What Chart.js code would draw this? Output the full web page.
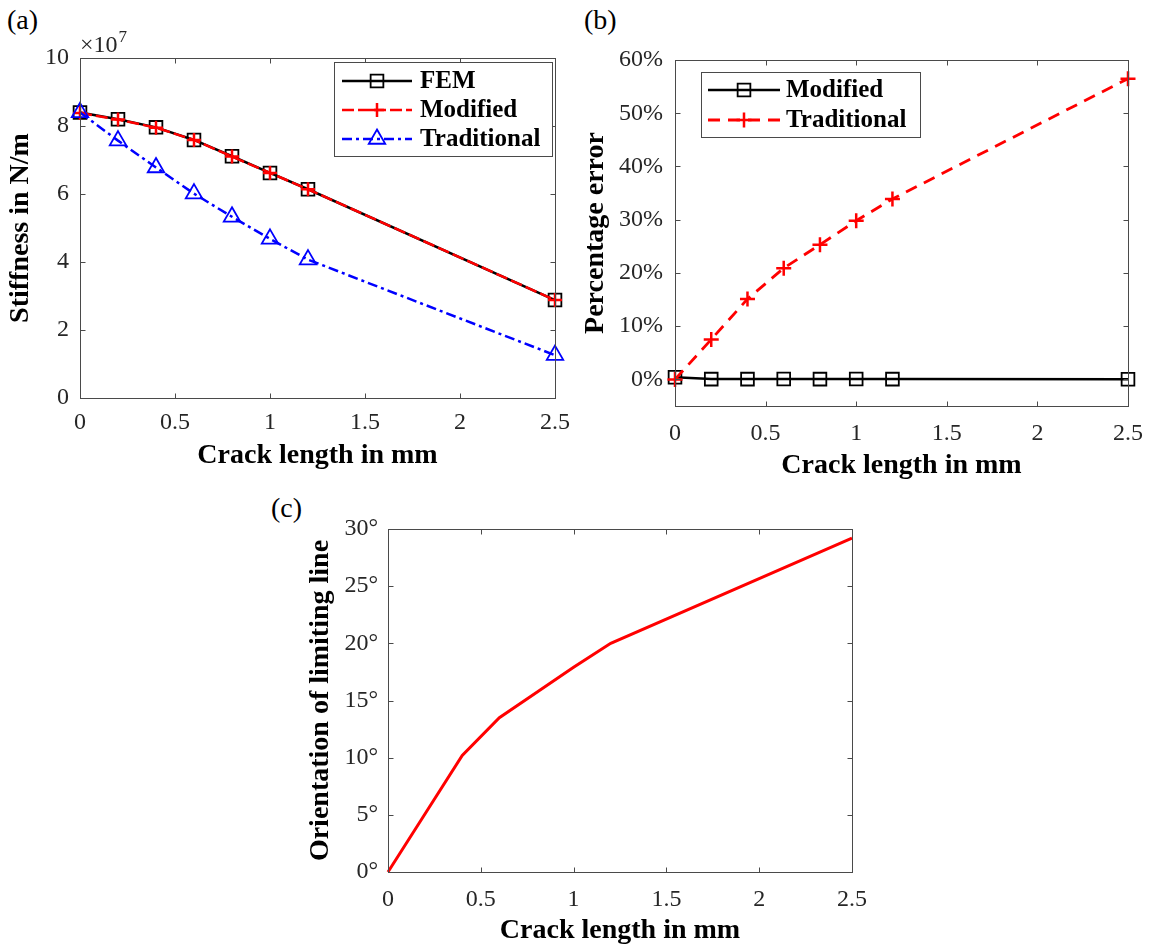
<!DOCTYPE html>
<html lang="en">
<head>
  <meta charset="UTF-8" />
  <title>Cracked beam stiffness</title>
  <script src="https://cdn.jsdelivr.net/npm/chart.js"></script>
  <style>
    body {
      margin: 0;
      width: 1156px;
      height: 950px;
      position: relative;
      overflow: hidden;
      background: #fff;
      font-family: 'Liberation Serif', serif;
    }
    canvas { position: absolute; }
    .tag {
      position: absolute;
      font-size: 28px;
      line-height: 28px;
      color: #000;
    }
  </style>
</head>
<body>
  <div class="tag" style="left:7px; top:6px;">(a)</div>
  <div class="tag" style="left:584px; top:6px;">(b)</div>
  <div class="tag" style="left:271px; top:494px;">(c)</div>

  <canvas id="stiffnessChart" width="580" height="480" style="left:0; top:0;"></canvas>
  <canvas id="errorChart" width="581" height="490" style="left:575px; top:0;"></canvas>
  <canvas id="angleChart" width="580" height="470" style="left:300px; top:480px;"></canvas>

  <script>
    // crack lengths in mm
    const crackLength = [0, 0.2, 0.4, 0.6, 0.8, 1.0, 1.2, 2.5];

    // stiffness, x 10^7 N/m
    const stiffnessFEM = [8.40, 8.20, 7.96, 7.59, 7.11, 6.62, 6.14, 2.88];
    const stiffnessModified = [8.38, 8.19, 7.95, 7.59, 7.10, 6.62, 6.14, 2.88];
    const stiffnessTraditional = [8.40, 7.57, 6.78, 6.01, 5.33, 4.68, 4.07, 1.26];

    // percentage error against FEM
    const errorModified = [0.4, 0.05, 0.05, 0.08, 0.05, 0.08, 0.05, 0.02];
    const errorTraditional = [0, 7.5, 15.1, 20.9, 25.3, 29.8, 33.9, 56.5];

    // orientation of limiting line, degrees
    const limitAngle = [0, 5.1, 10.2, 13.5, 15.7, 17.9, 20.0, 29.2];

    const xTicks = [0, 0.5, 1, 1.5, 2, 2.5];
    const stiffnessTicks = [0, 2, 4, 6, 8, 10];
    const errorTicks = [0, 10, 20, 30, 40, 50, 60];
    const angleTicks = [0, 5, 10, 15, 20, 25, 30];

    const AXIS_COLOR = '#4a4a4a';
    const TICK_COLOR = '#262626';
    const FONT = "'Liberation Serif', serif";

    Chart.defaults.font.family = FONT;

    const points = ys => crackLength.map((x, i) => ({ x: x, y: ys[i] }));

    function drawMarker(ctx, style, x, y, r) {
      ctx.beginPath();
      if (style === 'rect') {
        const s = r * Math.SQRT1_2;
        ctx.rect(x - s, y - s, 2 * s, 2 * s);
      } else if (style === 'cross') {
        ctx.moveTo(x - r, y); ctx.lineTo(x + r, y);
        ctx.moveTo(x, y - r); ctx.lineTo(x, y + r);
      } else if (style === 'triangle') {
        ctx.moveTo(x, y - r);
        ctx.lineTo(x + r * Math.sin(Math.PI * 2 / 3), y + r / 2);
        ctx.lineTo(x - r * Math.sin(Math.PI * 2 / 3), y + r / 2);
        ctx.closePath();
      }
      ctx.stroke();
    }

    // box around the plot area with inward ticks on all four sides
    const axesBox = {
      id: 'axesBox',
      afterDatasetsDraw(chart) {
        const { ctx, chartArea: a, scales } = chart;
        const L = Math.round(a.left) + 0.5, R = Math.round(a.right) + 0.5;
        const T = Math.round(a.top) + 0.5, B = Math.round(a.bottom) + 0.5;
        ctx.save();
        ctx.strokeStyle = AXIS_COLOR;
        ctx.lineWidth = 1;
        ctx.strokeRect(L, T, R - L, B - T);
        ctx.beginPath();
        scales.x.ticks.forEach(t => {
          const px = Math.round(scales.x.getPixelForValue(t.value)) + 0.5;
          ctx.moveTo(px, B); ctx.lineTo(px, B - 5);
          ctx.moveTo(px, T); ctx.lineTo(px, T + 5);
        });
        scales.y.ticks.forEach(t => {
          const py = Math.round(scales.y.getPixelForValue(t.value)) + 0.5;
          ctx.moveTo(L, py); ctx.lineTo(L + 5, py);
          ctx.moveTo(R, py); ctx.lineTo(R - 5, py);
        });
        ctx.stroke();
        ctx.restore();
      }
    };

    // framed legend inside the plot: line sample, marker, bold label
    const boxLegend = {
      id: 'boxLegend',
      afterDraw(chart, args, opts) {
        if (!opts.box) return;
        const ctx = chart.ctx;
        const [bx, by, bw, bh] = opts.box;
        ctx.save();
        ctx.fillStyle = '#fff';
        ctx.fillRect(bx, by, bw, bh);
        ctx.strokeStyle = AXIS_COLOR;
        ctx.lineWidth = 1;
        ctx.strokeRect(bx + 0.5, by + 0.5, bw, bh);
        chart.data.datasets.forEach((ds, i) => {
          const y = opts.rows[i];
          ctx.strokeStyle = ds.borderColor;
          ctx.lineWidth = ds.borderWidth;
          ctx.setLineDash(ds.borderDash || []);
          ctx.beginPath();
          ctx.moveTo(opts.lineFrom, y);
          ctx.lineTo(opts.lineTo, y);
          ctx.stroke();
          ctx.setLineDash([]);
          ctx.strokeStyle = ds.pointBorderColor;
          ctx.lineWidth = ds.pointBorderWidth;
          drawMarker(ctx, ds.pointStyle, (opts.lineFrom + opts.lineTo) / 2, y, ds.pointRadius);
          ctx.fillStyle = '#000';
          ctx.font = 'bold 25px ' + FONT;
          ctx.textBaseline = 'middle';
          ctx.fillText(ds.label, opts.textX, y + 1);
        });
        ctx.restore();
      }
    };

    // "x10^7" multiplier above the stiffness axis
    const exponentLabel = {
      id: 'exponentLabel',
      afterDraw(chart, args, opts) {
        if (!opts.text) return;
        const { ctx, chartArea } = chart;
        ctx.save();
        ctx.fillStyle = TICK_COLOR;
        ctx.textBaseline = 'alphabetic';
        ctx.font = '24px ' + FONT;
        const x0 = chartArea.left;
        const y0 = chartArea.top - 6;
        ctx.fillText(opts.text, x0, y0);
        const w = ctx.measureText(opts.text).width;
        ctx.font = '17px ' + FONT;
        ctx.fillText(opts.power, x0 + w + 1, y0 - 10);
        ctx.restore();
      }
    };

    function series(label, ys, color, dash, style, radius, width, order) {
      return {
        label: label,
        data: points(ys),
        borderColor: color,
        borderWidth: width,
        borderDash: dash,
        pointStyle: style,
        pointRadius: radius,
        pointBorderColor: color,
        pointBackgroundColor: 'rgba(0,0,0,0)',
        pointBorderWidth: style === 'cross' ? 2.5 : 1.8,
        tension: 0,
        clip: false,
        order: order
      };
    }

    function panelOptions(cfg) {
      const tickFont = { family: FONT, size: 24 };
      const titleFont = { family: FONT, size: 28, weight: 'bold' };
      return {
        responsive: false,
        animation: false,
        devicePixelRatio: 1,
        layout: { padding: { top: cfg.top, right: cfg.right, left: 0, bottom: 0 } },
        plugins: {
          legend: { display: false },
          tooltip: { enabled: false },
          boxLegend: cfg.legend || {},
          exponentLabel: cfg.exponent || {}
        },
        scales: {
          x: {
            type: 'linear',
            min: 0,
            max: 2.5,
            afterBuildTicks: s => { s.ticks = xTicks.map(v => ({ value: v })); },
            afterFit: s => { s.height = cfg.xHeight; },
            grid: { display: false, drawTicks: false },
            border: { display: false },
            ticks: { font: tickFont, color: TICK_COLOR, padding: cfg.xPad, maxRotation: 0, autoSkip: false,
                      callback: v => String(v) },
            title: { display: true, text: 'Crack length in mm', font: titleFont, color: '#000',
                     padding: { top: 0, bottom: cfg.xTitlePad } }
          },
          y: {
            type: 'linear',
            min: cfg.yMin,
            max: cfg.yMax,
            afterBuildTicks: s => { s.ticks = cfg.yTicks.map(v => ({ value: v })); },
            afterFit: s => { s.width = cfg.yWidth; },
            grid: { display: false, drawTicks: false },
            border: { display: false },
            ticks: { font: tickFont, color: TICK_COLOR, padding: cfg.yPad, autoSkip: false,
                     callback: v => v + cfg.suffix },
            title: { display: true, text: cfg.yTitle, font: titleFont, color: '#000',
                     padding: { top: 4, bottom: 0 } }
          }
        }
      };
    }

    new Chart(document.getElementById('stiffnessChart'), {
      type: 'line',
      data: {
        datasets: [
          series('FEM', stiffnessFEM, '#000000', [], 'rect', 9, 2.5, 3),
          series('Modified', stiffnessModified, '#ff0000', [12, 4], 'cross', 7, 2.5, 2),
          series('Traditional', stiffnessTraditional, '#0000ff', [10, 4, 3, 4], 'triangle', 9.5, 2.5, 1)
        ]
      },
      options: panelOptions({
        top: 58, right: 24, xHeight: 82, yWidth: 80, xPad: 10, yPad: 11, xTitlePad: 7,
        yMin: 0, yMax: 10, yTicks: stiffnessTicks, suffix: '', yTitle: 'Stiffness in N/m',
        exponent: { text: '\u00d710', power: '7' },
        legend: { box: [334, 62, 218, 94], rows: [81, 110, 139], lineFrom: 342, lineTo: 412, textX: 420 }
      }),
      plugins: [axesBox, boxLegend, exponentLabel]
    });

    new Chart(document.getElementById('errorChart'), {
      type: 'line',
      data: {
        datasets: [
          series('Modified', errorModified, '#000000', [], 'rect', 9, 2.5, 2),
          series('Traditional', errorTraditional, '#ff0000', [12, 8], 'cross', 7.5, 2.8, 1)
        ]
      },
      options: panelOptions({
        top: 60, right: 24, xHeight: 84, yWidth: 100, xPad: 13, yPad: 12, xTitlePad: 7,
        yMin: -5, yMax: 60, yTicks: errorTicks, suffix: '%', yTitle: 'Percentage error',
        legend: { box: [126, 72, 219, 65], rows: [90, 120], lineFrom: 133, lineTo: 205, textX: 211 }
      }),
      plugins: [axesBox, boxLegend]
    });

    new Chart(document.getElementById('angleChart'), {
      type: 'line',
      data: {
        datasets: [
          {
            label: 'Orientation',
            data: points(limitAngle),
            borderColor: '#ff0000',
            borderWidth: 3,
            pointRadius: 0,
            tension: 0,
            clip: false
          }
        ]
      },
      options: panelOptions({
        top: 49, right: 20, xHeight: 78, yWidth: 88, xPad: 13, yPad: 10, xTitlePad: 2,
        yMin: 0, yMax: 30, yTicks: angleTicks, suffix: '\u00b0', yTitle: 'Orientation of limiting line'
      }),
      plugins: [axesBox]
    });
  </script>
</body>
</html>
